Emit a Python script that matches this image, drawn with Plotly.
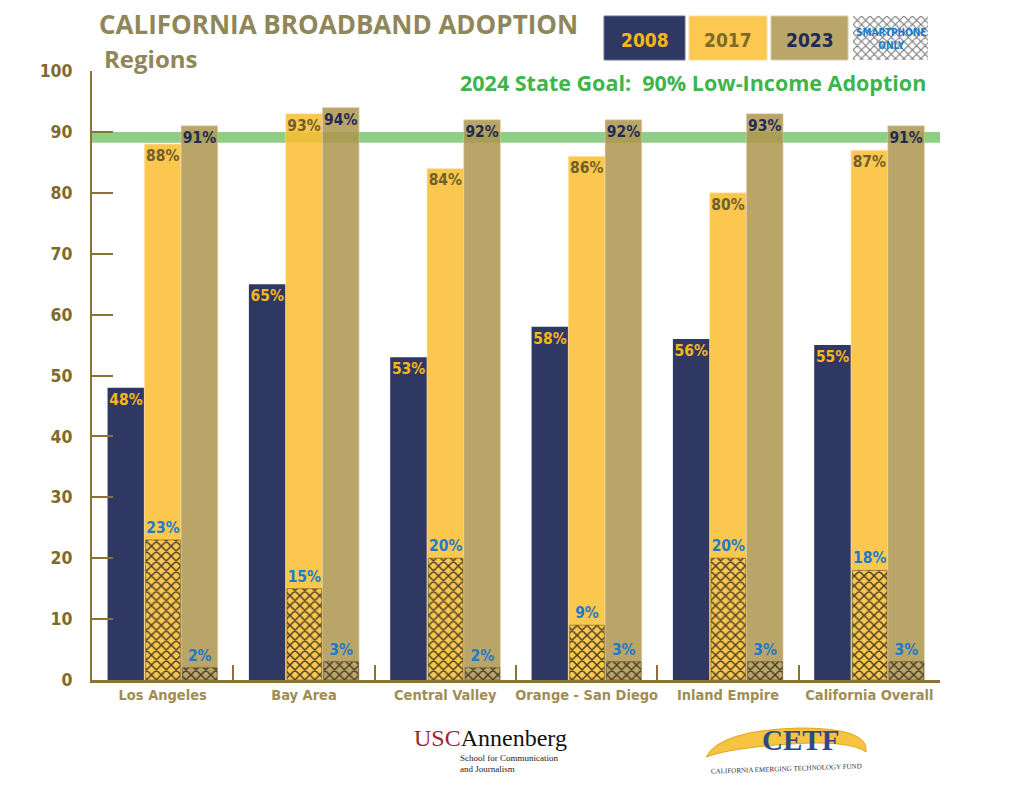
import plotly.graph_objects as go

# ---------------- data ----------------
categories = ["Los Angeles", "Bay Area", "Central Valley", "Orange - San Diego",
              "Inland Empire", "California Overall"]
adopt_2008 = [48, 65, 53, 58, 56, 55]
adopt_2017 = [88, 93, 84, 86, 80, 87]
adopt_2023 = [91, 94, 92, 92, 93, 91]
smartphone_2017 = [23, 15, 20, 9, 20, 18]
smartphone_2023 = [2, 3, 2, 3, 3, 3]
y_ticks = [0, 10, 20, 30, 40, 50, 60, 70, 80, 90, 100]
goal_low, goal_high = 88.2, 90

W, H = 1024, 792
def px(x):
    return x / W
def py(y):
    return 1 - y / H

NAVY = "#2E3862"
YELLOW_SOLID = "#FCC850"
TAN_SOLID = "#BBA66A"
YELLOW_T = "#FBBE31"
TAN_T = "#AF9650"
AXIS = "#8B7335"
TICKTXT = "#7F6A2E"
XTXT = "#A08C55"
TITLE = "#8F8659"
GREEN = "#3DB54A"
BLUE = "#1B7BC9"
HATCH = "#4A3F25"

LBL_FONT = "DejaVu Sans Condensed"
HEAD_FONT = "Open Sans"
pct = lambda v: [f"{x}%" for x in v]

fig = go.Figure()

common = dict(textposition="inside", insidetextanchor="end", constraintext="none",
              textangle=0, cliponaxis=False)

fig.add_trace(go.Bar(x=categories, y=adopt_2008, name="2008", width=0.26, offset=-0.39,
                     marker=dict(color=NAVY, line=dict(width=0)),
                     text=pct(adopt_2008),
                     textfont=dict(family=LBL_FONT, size=15.5, color="#F7B718", weight="bold"),
                     **common))
fig.add_trace(go.Bar(x=categories, y=adopt_2017, name="2017", width=0.26, offset=-0.13,
                     marker=dict(color=YELLOW_T, opacity=0.85,
                                 line=dict(width=1, color="rgba(255,235,180,0.6)")),
                     text=pct(adopt_2017),
                     textfont=dict(family=LBL_FONT, size=15.5, color="#6F5F2A", weight="bold"),
                     **common))
fig.add_trace(go.Bar(x=categories, y=adopt_2023, name="2023", width=0.26, offset=0.13,
                     marker=dict(color=TAN_T, opacity=0.85,
                                 line=dict(width=1, color="rgba(225,210,170,0.6)")),
                     text=pct(adopt_2023),
                     textfont=dict(family=LBL_FONT, size=15.5, color="#1E2B55", weight="bold"),
                     **common))

hatch_common = dict(textposition="outside", constraintext="none", textangle=0, cliponaxis=False,
                    textfont=dict(family=LBL_FONT, size=15.5, color=BLUE, weight="bold"))
fig.add_trace(go.Bar(x=categories, y=smartphone_2017, name="Smartphone only 2017",
                     width=0.245, offset=-0.12,
                     marker=dict(color=YELLOW_SOLID, line=dict(width=0.5, color=HATCH),
                                 pattern=dict(shape="x", fgcolor=HATCH, bgcolor=YELLOW_SOLID,
                                              size=7, solidity=0.38, fillmode="replace")),
                     text=pct(smartphone_2017), **hatch_common))
fig.add_trace(go.Bar(x=categories, y=smartphone_2023, name="Smartphone only 2023",
                     width=0.245, offset=0.14,
                     marker=dict(color=TAN_SOLID, line=dict(width=0.5, color=HATCH),
                                 pattern=dict(shape="x", fgcolor=HATCH, bgcolor=TAN_SOLID,
                                              size=7, solidity=0.38, fillmode="replace")),
                     text=pct(smartphone_2023), **hatch_common))

# legend swatch for smartphone-only (pattern box)
fig.add_trace(go.Bar(x=[0], y=[1], width=1, xaxis="x2", yaxis="y2", showlegend=False,
                     hoverinfo="skip",
                     marker=dict(color="white", line=dict(width=0),
                                 pattern=dict(shape="x", fgcolor="#7a7a7a", bgcolor="white",
                                              size=6, solidity=0.35, fillmode="replace"))))

shapes = [
    dict(type="rect", xref="x domain", yref="y", x0=0, x1=1, y0=goal_low, y1=goal_high,
         fillcolor="#8FCF85", line=dict(width=0), layer="below"),
    dict(type="rect", xref="paper", yref="paper", x0=px(604), x1=px(685), y0=py(60), y1=py(16),
         fillcolor=NAVY, line=dict(color="#6B7290", width=1)),
    dict(type="rect", xref="paper", yref="paper", x0=px(689), x1=px(767), y0=py(60), y1=py(16),
         fillcolor=YELLOW_SOLID, line=dict(color="#F5DDA0", width=1)),
    dict(type="rect", xref="paper", yref="paper", x0=px(771), x1=px(848), y0=py(60), y1=py(16),
         fillcolor=TAN_SOLID, line=dict(color="#D8CBA0", width=1)),
    dict(type="path", xref="paper", yref="paper",
         path=(f"M {px(706)},{py(757)} Q {px(720)},{py(730)} {px(800)},{py(728)} "
               f"Q {px(870)},{py(728)} {px(866)},{py(752)} "
               f"Q {px(850)},{py(740)} {px(790)},{py(744)} "
               f"Q {px(730)},{py(748)} {px(706)},{py(757)} Z"),
         fillcolor="#F6C343", line=dict(color="#E0A820", width=1), layer="below"),
]

def ann(text, x, y, size, color, family=HEAD_FONT, xanchor="center", yanchor="middle", **kw):
    return dict(text=text, x=px(x), y=py(y), xref="paper", yref="paper", xanchor=xanchor,
                yanchor=yanchor, showarrow=False, font=dict(family=family, size=size, color=color),
                **kw)

annotations = [
    ann("<b>CALIFORNIA BROADBAND ADOPTION</b>", 97, 24, 26, TITLE, xanchor="left"),
    ann("<b>Regions</b>", 102, 58.5, 24, TITLE, xanchor="left"),
    ann("<b>2024 State Goal:  90% Low-Income Adoption</b>", 928, 83, 21.5, GREEN,
        xanchor="right"),
    ann("<b>2008</b>", 644.5, 40, 19, "#F7B718", family=LBL_FONT),
    ann("<b>2017</b>", 728, 40, 19, "#7B6A2B", family=LBL_FONT),
    ann("<b>2023</b>", 809.5, 40, 19, "#1E2B55", family=LBL_FONT),
    ann("<b>SMARTPHONE<br>ONLY</b>", 890.5, 39, 10, BLUE, family=LBL_FONT),
    ann("<span style='color:#9D2235'>USC</span>Annenberg", 412, 738, 24, "#111111",
        family="Liberation Serif", xanchor="left"),
    ann("School for Communication", 458, 758, 9, "#222222",
        family="Liberation Serif", xanchor="left"),
    ann("and Journalism", 458, 769, 9, "#222222",
        family="Liberation Serif", xanchor="left"),
    ann("<b>CETF</b>", 800, 740, 29, "#2B4A86", family="Liberation Serif"),
    ann("CALIFORNIA EMERGING TECHNOLOGY FUND", 786, 769, 7, "#333333",
        family="Liberation Serif", textangle=-2),
]

fig.update_layout(
    width=W, height=H, autosize=False,
    margin=dict(l=0, r=0, t=0, b=0, autoexpand=False),
    paper_bgcolor="white", plot_bgcolor="white",
    barmode="overlay",
    showlegend=False,
    shapes=shapes,
    annotations=annotations,
    xaxis=dict(domain=[px(92), px(940)], type="category", categoryorder="array",
               categoryarray=categories, showline=True, linecolor=AXIS, linewidth=3,
               ticks="inside", tickson="boundaries", ticklen=15, tickwidth=2, tickcolor=AXIS,
               showgrid=False, zeroline=False, tickangle=0, automargin=False,
               tickfont=dict(family=LBL_FONT, size=14.5, color=XTXT, weight="bold")),
    yaxis=dict(domain=[py(680), py(71)], range=[0, 100], tickvals=y_ticks,
               showline=True, linecolor=AXIS, linewidth=2, ticks="inside", ticklen=21,
               tickwidth=2, tickcolor=AXIS, showgrid=False, zeroline=False,
               ticklabelstandoff=14, automargin=False,
               tickfont=dict(family=LBL_FONT, size=17.5, color=TICKTXT, weight="bold")),
    xaxis2=dict(domain=[px(853), px(928)], range=[-0.5, 0.5], visible=False,
                anchor="y2", fixedrange=True, automargin=False),
    yaxis2=dict(domain=[py(60), py(16)], range=[0, 1], visible=False,
                anchor="x2", fixedrange=True, automargin=False),
)

fig.write_html("out.html", config={"responsive": False, "displayModeBar": False},
               post_script="document.body.style.margin='0';document.body.style.overflow='hidden';")
